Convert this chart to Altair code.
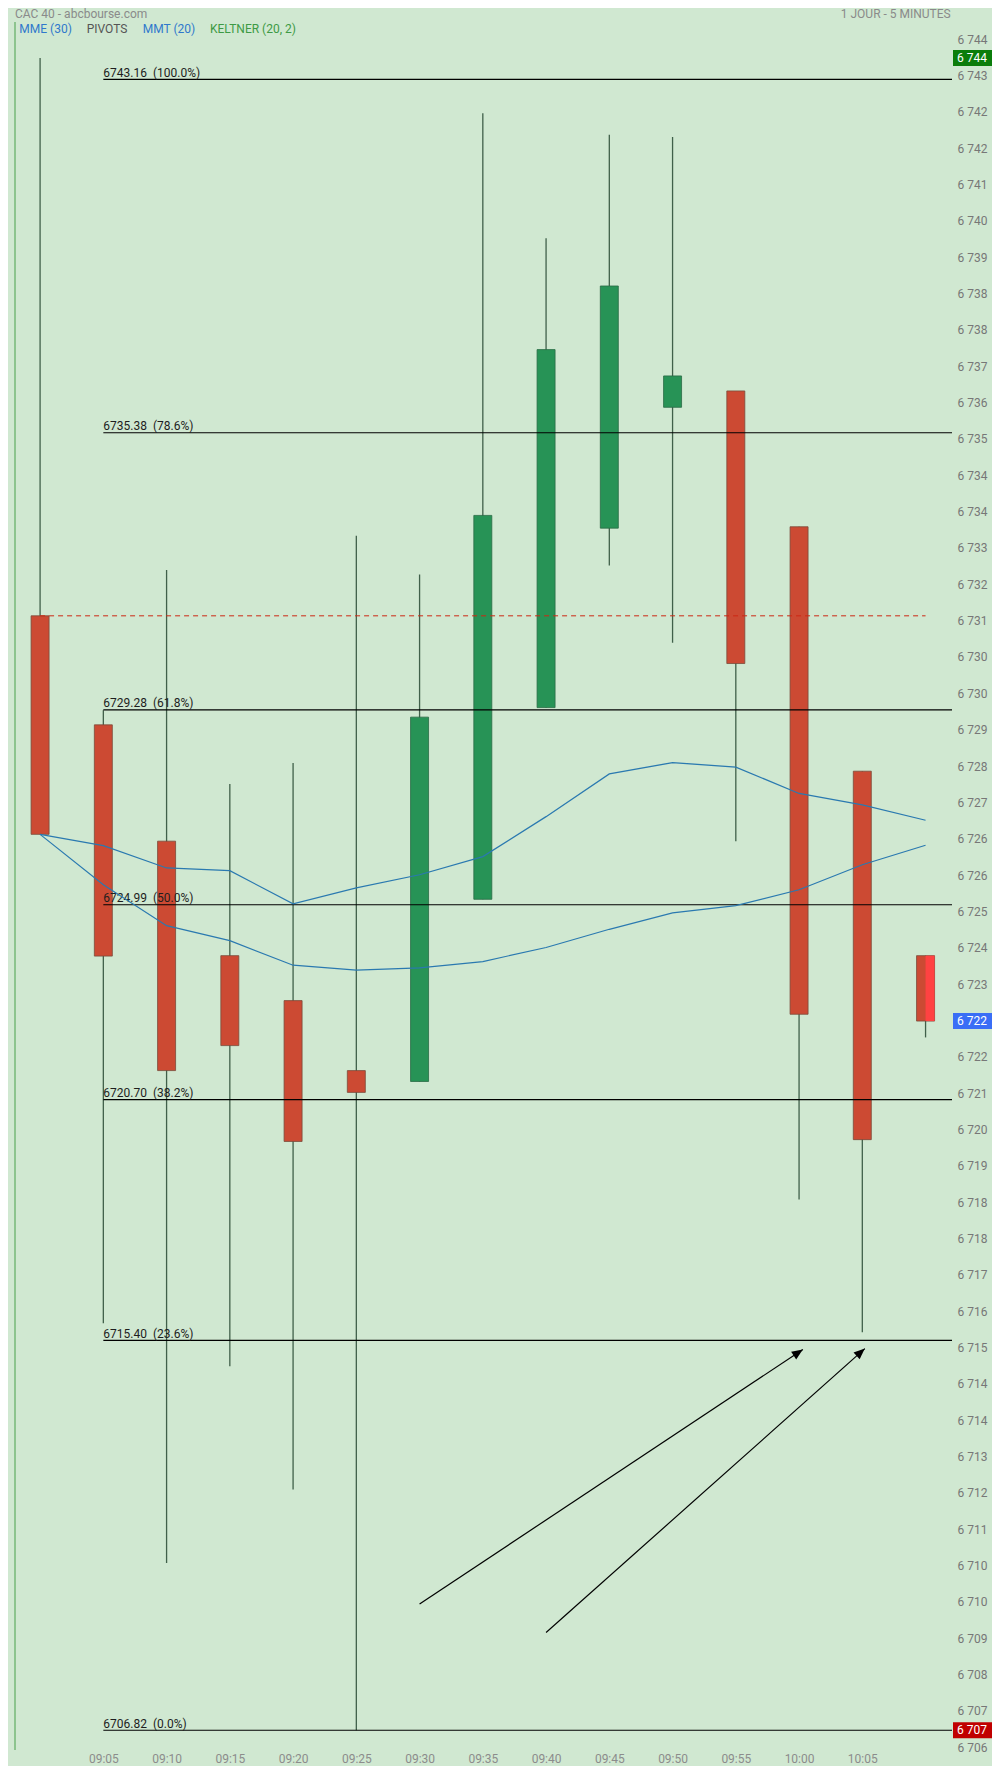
import math
import altair as alt
import pandas as pd

# ---------------- data ----------------
times = ["09:00", "09:05", "09:10", "09:15", "09:20", "09:25", "09:30", "09:35",
         "09:40", "09:45", "09:50", "09:55", "10:00", "10:05", "10:10"]
opens = [6731.35, 6728.95, 6726.39, 6723.87, 6722.88, 6721.34, 6721.10, 6725.11,
         6729.33, 6733.28, 6735.94, 6736.30, 6733.31, 6727.93, 6723.87]
highs = [6743.63, 6729.27, 6732.36, 6727.65, 6728.11, 6733.11, 6732.26, 6742.41,
         6739.66, 6741.94, 6741.89, 6736.30, 6733.31, 6727.93, 6723.87]
lows = [6726.54, 6715.78, 6710.50, 6714.83, 6712.12, 6706.82, 6721.10, 6725.11,
        6729.33, 6732.46, 6730.76, 6726.39, 6718.50, 6715.58, 6722.07]
closes = [6726.54, 6723.86, 6721.34, 6721.89, 6719.78, 6720.86, 6729.12, 6733.56,
          6737.21, 6738.61, 6736.63, 6730.30, 6722.58, 6719.82, 6722.43]

ma_upper = [6726.54, 6726.29, 6725.80, 6725.74, 6725.01, 6725.36, 6725.65, 6726.05,
            6726.93, 6727.87, 6728.12, 6728.02, 6727.44, 6727.19, 6726.85]
ma_lower = [6726.54, 6725.43, 6724.53, 6724.20, 6723.66, 6723.55, 6723.60, 6723.74,
            6724.05, 6724.45, 6724.81, 6724.97, 6725.32, 6725.87, 6726.30]

fib_levels = [6743.16, 6735.38, 6729.28, 6724.99, 6720.70, 6715.40, 6706.82]
fib_pcts = ["100.0%", "78.6%", "61.8%", "50.0%", "38.2%", "23.6%", "0.0%"]
fib_start_time = "09:05"

ref_level = 6731.35  # red dashed line

# arrows (minutes after 09:00, price)
arrow_x0 = [30.0, 40.0]
arrow_y0 = [6709.60, 6708.97]
arrow_x1 = [60.3, 65.2]
arrow_y1 = [6715.20, 6715.22]

tag_values = [6743.63, 6722.43, 6706.82]
tag_labels = ["6 744", "6 722", "6 707"]
tag_colors = ["#0b7d0b", "#3a6ef6", "#c00000"]

x_tick_times = ["09:05", "09:10", "09:15", "09:20", "09:25", "09:30", "09:35",
                "09:40", "09:45", "09:50", "09:55", "10:00", "10:05"]
y_tick_values = [round(6706.4 + 0.8 * i, 1) for i in range(48)]

# ---------------- layout / style ----------------
W, H = 937, 1730
X_DOMAIN = [-1.588, 71.695]
Y_DOMAIN = [6706.385, 6744.465]
BG = "#d0e8d1"
RED = "#cc4a33"
GREEN = "#279356"
WICK = "#40604a"
MA_COLOR = "#2a79b0"
FONT = "Roboto"


def to_min(t):
    return int(t[:2]) * 60 + int(t[3:]) - 540


minutes = [to_min(t) for t in times]
px_per_min = W / (X_DOMAIN[1] - X_DOMAIN[0])
px_per_unit = H / (Y_DOMAIN[1] - Y_DOMAIN[0])

xs = alt.Scale(domain=X_DOMAIN, nice=False, zero=False)
ys = alt.Scale(domain=Y_DOMAIN, nice=False, zero=False)

y_axis = alt.Axis(
    orient="right", values=y_tick_values,
    labelExpr="replace(format(round(datum.value), ','), ',', ' ')",
    domain=False, ticks=False, grid=False, labelPadding=5, labelColor="#777777",
    labelFontSize=12, labelFont=FONT, labelOverlap=False, labelBound=False,
    labelFlush=False, title=None, labelAlign="left", labelBaseline="middle", labelOffset=-2,
)
x_axis = alt.Axis(
    values=[to_min(t) for t in x_tick_times],
    labelExpr="timeFormat(datetime(2024,0,1,9,datum.value,0,0),'%H:%M')",
    domain=False, ticks=False, grid=False, labelPadding=3, labelColor="#8c8c8c",
    labelFontSize=12, labelFont=FONT, labelOverlap=False, labelFlush=False,
    labelBound=False, title=None,
)


def X(f):
    return alt.X(f, type="quantitative", scale=xs, axis=x_axis)


def Y(f):
    return alt.Y(f, type="quantitative", scale=ys, axis=y_axis)


candles = pd.DataFrame({
    "m": minutes, "t": times, "open": opens, "high": highs, "low": lows, "close": closes,
})
candles["dir"] = ["up" if c >= o else "down" for o, c in zip(opens, closes)]

ma = pd.DataFrame({
    "m": minutes * 2,
    "v": ma_upper + ma_lower,
    "s": ["upper"] * len(minutes) + ["lower"] * len(minutes),
})

fib = pd.DataFrame({
    "v": fib_levels,
    "m": [to_min(fib_start_time)] * len(fib_levels),
    "label": [f"{v:.2f}\u00a0\u00a0({p})" for v, p in zip(fib_levels, fib_pcts)],
})

ref = pd.DataFrame({"m": [minutes[0]], "m2": [minutes[-1]], "v": [ref_level]})

arrows = pd.DataFrame({"x0": arrow_x0, "y0": arrow_y0, "x1": arrow_x1, "y1": arrow_y1})
arrows["ang"] = [
    math.degrees(math.atan2((b - a) * px_per_min, (d - c) * px_per_unit))
    for a, b, c, d in zip(arrow_x0, arrow_x1, arrow_y0, arrow_y1)
]

tag_half = 8 / px_per_unit
tags = pd.DataFrame({"v": tag_values, "label": tag_labels, "c": tag_colors})
tags["lo"] = tags["v"] - tag_half
tags["hi"] = tags["v"] + tag_half

one = pd.DataFrame({"a": [0]})

# ---------------- layers ----------------
border = alt.Chart(one).mark_rule(color="#8cc48e", strokeWidth=2).encode(
    x=alt.value(0), y=alt.value(2), y2=alt.value(H)
)

wicks = alt.Chart(candles).mark_rule(color=WICK, strokeWidth=1.3).encode(
    x=X("m"), y=Y("low"), y2="high:Q",
)

bodies = alt.Chart(candles).mark_bar(size=18, strokeWidth=0.8).encode(
    x=X("m"), y=Y("open"), y2="close",
    color=alt.Color("dir:N", scale=alt.Scale(domain=["up", "down"], range=[GREEN, RED]), legend=None),
    stroke=alt.Stroke("dir:N", scale=alt.Scale(domain=["up", "down"], range=["#2a6b45", "#7a4a3a"]), legend=None),
)

last = alt.Chart(candles.tail(1)).mark_bar(size=9, xOffset=4.5, color="#ff4242").encode(
    x=X("m"), y=Y("open"), y2="close"
)

fib_lines = alt.Chart(fib).mark_rule(color="#000000", strokeWidth=1.2).encode(
    x=X("m"), x2=alt.value(W), y=Y("v")
)
fib_text = alt.Chart(fib).mark_text(
    align="left", baseline="alphabetic", dy=-2.5, fontSize=12, font=FONT, color="#1e1e1e"
).encode(x=X("m"), y=Y("v"), text="label:N")

ref_line = alt.Chart(ref).mark_rule(color="#cc2814", strokeWidth=1, strokeDash=[5, 4]).encode(
    x=X("m"), x2="m2:Q", y=Y("v")
)

ma_lines = alt.Chart(ma).mark_line(strokeWidth=1.2, color=MA_COLOR).encode(
    x=X("m"), y=Y("v"), detail="s:N"
)

arrow_lines = alt.Chart(arrows).mark_rule(color="#000000", strokeWidth=1.2).encode(
    x=X("x0"), x2="x1:Q", y=Y("y0"), y2="y1:Q"
)
arrow_heads = alt.Chart(arrows).mark_point(
    shape="M0,0L-0.42,1L0.42,1Z", size=484, filled=True, color="#000000", opacity=1
).encode(x=X("x1"), y=Y("y1"), angle=alt.Angle("ang:Q", scale=None))

tag_boxes = alt.Chart(tags).mark_rect().encode(
    x=alt.value(W + 1), x2=alt.value(W + 40), y=Y("lo"), y2="hi:Q",
    color=alt.Color("c:N", scale=None),
)
tag_text = alt.Chart(tags).mark_text(
    align="left", baseline="middle", fontSize=12, font=FONT, color="#ffffff"
).encode(x=alt.value(W + 5), y=Y("v"), text="label:N")


def header(text, x, y, color, align="left"):
    return alt.Chart(one).mark_text(
        align=align, baseline="middle", fontSize=12, font=FONT, color=color
    ).encode(x=alt.value(x), y=alt.value(y), text=alt.value(text))


headers = [
    header("CAC 40 - abcbourse.com", 0, -6.5, "#8a8a8a"),
    header("1 JOUR - 5 MINUTES", 935.7, -6.5, "#8a8a8a", align="right"),
    header("MME (30)", 4.3, 9, "#2f78cc"),
    header("PIVOTS", 71.7, 9, "#555555"),
    header("MMT (20)", 127.7, 9, "#2f78cc"),
    header("KELTNER (20, 2)", 195, 9, "#3d9a45"),
]

chart = alt.layer(
    border, wicks, bodies, last, fib_lines, fib_text, ref_line, ma_lines,
    arrow_lines, arrow_heads, tag_boxes, tag_text, *headers
).properties(
    width=W, height=H,
    padding={"left": 7, "top": 12, "right": 40, "bottom": 16},
    autosize=alt.AutoSizeParams(type="none"),
).configure(background=BG).configure_view(stroke=None, fill=BG)

chart.save("out.html", embed_options={"renderer": "svg", "actions": False})
